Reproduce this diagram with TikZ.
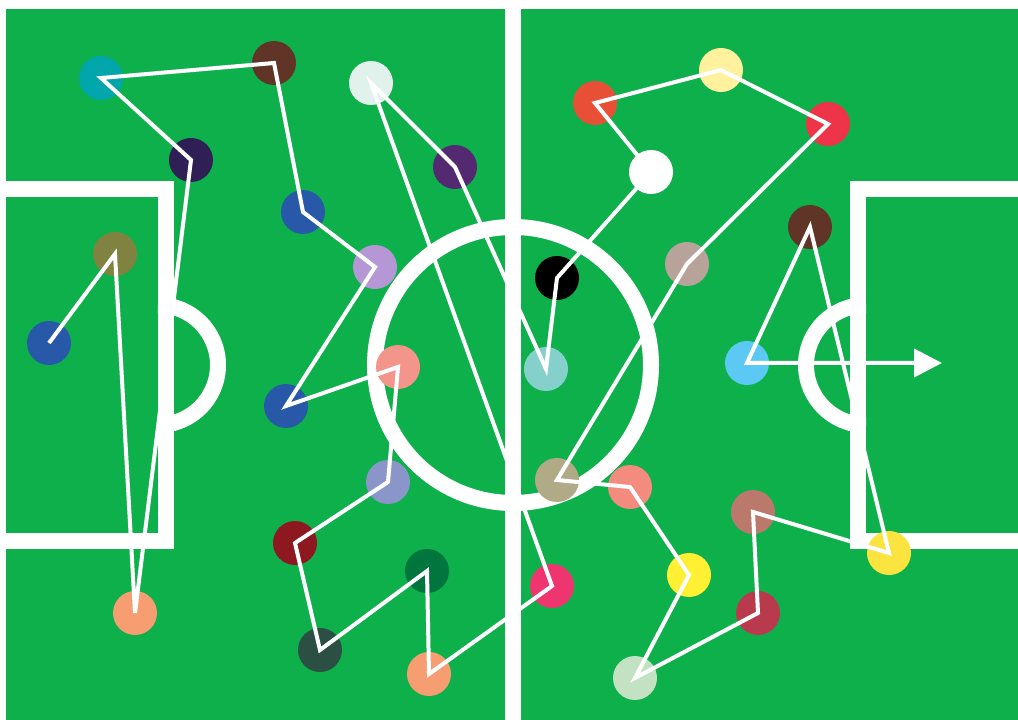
\documentclass[tikz,border=0pt]{standalone}
\usetikzlibrary{arrows.meta}
\definecolor{pitch}{HTML}{0EB04C}
\definecolor{cA}{HTML}{00A6AA}
\definecolor{cB}{HTML}{603426}
\definecolor{cC}{HTML}{2E1F55}
\definecolor{cD}{HTML}{E1F2EC}
\definecolor{cE}{HTML}{532A72}
\definecolor{cF}{HTML}{2759A8}
\definecolor{cG}{HTML}{B497D4}
\definecolor{cH}{HTML}{808340}
\definecolor{cI}{HTML}{F3958A}
\definecolor{cJ}{HTML}{8A96CA}
\definecolor{cK}{HTML}{8D1820}
\definecolor{cL}{HTML}{00753E}
\definecolor{cM}{HTML}{F69D71}
\definecolor{cN}{HTML}{2B4F42}
\definecolor{cO}{HTML}{86D0CB}
\definecolor{cP}{HTML}{E84F37}
\definecolor{cQ}{HTML}{FFF19E}
\definecolor{cR}{HTML}{EE3449}
\definecolor{cS}{HTML}{B8A39A}
\definecolor{cT}{HTML}{5BC9F3}
\definecolor{cU}{HTML}{B1AA87}
\definecolor{cV}{HTML}{F38C7F}
\definecolor{cW}{HTML}{BA796A}
\definecolor{cX}{HTML}{FFF033}
\definecolor{cY}{HTML}{FBE43F}
\definecolor{cZ}{HTML}{EF3570}
\definecolor{cAA}{HTML}{B83A4C}
\definecolor{cAB}{HTML}{C3E1C3}
\tikzset{
  player/.style={circle, inner sep=0pt, minimum size=33pt, fill=#1},
  marking/.style={white, line width=12pt},
  pass/.style={white, line width=3pt, line join=miter}
}
\begin{document}
\begin{tikzpicture}[x=0.75pt, y=-0.75pt]
\useasboundingbox (0,0) rectangle (1018,720);
\clip (0,0) rectangle (1018,720);
\fill[white] (0,0) rectangle (1018,720);
\fill[pitch] (6,9.3) rectangle (1030,730);
% markings
\draw[marking] (513,-10) -- (513,730);
\draw[marking] (-20,189) -- (165.5,189) -- (165.5,541) -- (-20,541);
\draw[marking] (158,305) arc[start angle=-90, end angle=90, radius=60];
\draw[marking] (1040,189) -- (858,189) -- (858,541) -- (1040,541);
\draw[marking] (866,305) arc[start angle=-90, end angle=-270, radius=60];
\draw[marking] (513,365) circle[radius=138];
% players
\node[player=cF] (p9) at (49,343) {};
\node[player=cH] (p8) at (115,254) {};
\node[player=cM] (p15) at (135,613) {};
\node[player=cC] (p3) at (191,160) {};
\node[player=cA] (p1) at (101,78) {};
\node[player=cB] (p2) at (274,63) {};
\node[player=cF] (p6) at (303,212) {};
\node[player=cG] (p7) at (375,267) {};
\node[player=cF] (p11) at (286,406) {};
\node[player=cI] (p10) at (398,367) {};
\node[player=cJ] (p12) at (388,482) {};
\node[player=cK] (p13) at (295,543) {};
\node[player=cN] (p16) at (320,650) {};
\node[player=cL] (p14) at (427,571) {};
\node[player=cM] (p17) at (429,674) {};
\node[player=cZ] (p32) at (552,586) {};
\node[player=cD] (p4) at (371,83) {};
\node[player=cE] (p5) at (455,167) {};
\node[player=cO] (p19) at (546,369) {};
\node[player=black] (p18) at (557,278) {};
\node[player=white] (p23) at (651,172) {};
\node[player=cP] (p20) at (595,103) {};
\node[player=cQ] (p21) at (721,70) {};
\node[player=cR] (p22) at (828,124) {};
\node[player=cS] (p24) at (687,264) {};
\node[player=cU] (p27) at (557,480) {};
\node[player=cV] (p28) at (630,487) {};
\node[player=cX] (p30) at (689,575) {};
\node[player=cAB] (p34) at (635,678) {};
\node[player=cAA] (p33) at (758,613) {};
\node[player=cW] (p29) at (753,512) {};
\node[player=cY] (p31) at (889,553) {};
\node[player=cB] (p25) at (810,227) {};
\node[player=cT] (p26) at (747,363) {};
\coordinate (goal) at (942,363);
% passing sequence
\draw[pass, -{Triangle[length=21pt, width=21pt]}]
  (p9.center) -- (p8.center) -- (p15.center) -- (p3.center) -- (p1.center)
  -- (p2.center) -- (p6.center) -- (p7.center) -- (p11.center) -- (p10.center)
  -- (p12.center) -- (p13.center) -- (p16.center) -- (p14.center) -- (p17.center)
  -- (p32.center) -- (p4.center) -- (p5.center) -- (p19.center) -- (p18.center)
  -- (p23.center) -- (p20.center) -- (p21.center) -- (p22.center) -- (p24.center)
  -- (p27.center) -- (p28.center) -- (p30.center) -- (p34.center) -- (p33.center)
  -- (p29.center) -- (p31.center) -- (p25.center) -- (p26.center) -- (goal);
\end{tikzpicture}
\end{document}
